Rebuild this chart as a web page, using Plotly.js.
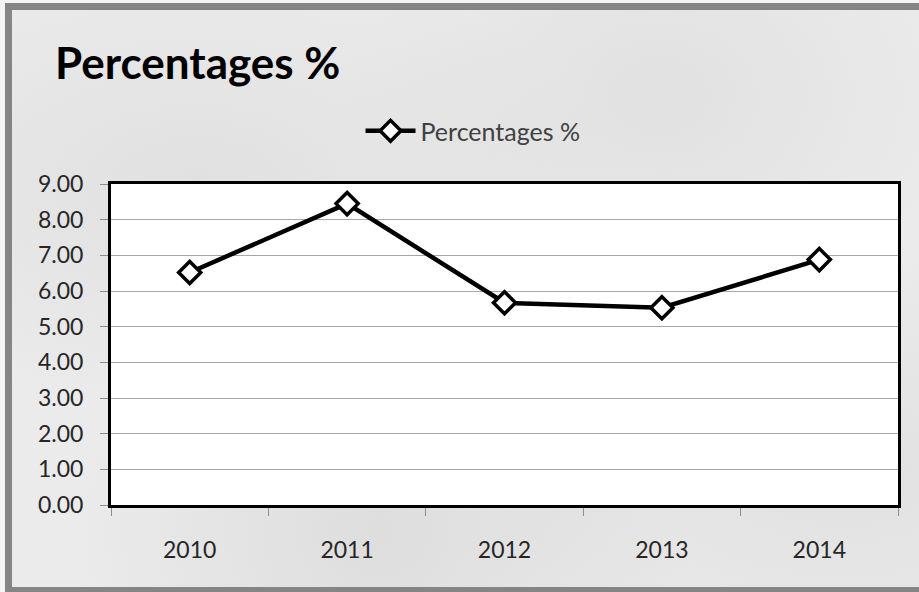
<!DOCTYPE html>
<html>
<head>
<meta charset="utf-8">
<script src="https://cdn.plot.ly/plotly-3.0.1.min.js"></script>
<style>
  html, body { margin: 0; padding: 0; width: 919px; height: 592px; overflow: hidden; background: #f4f4f4; }
  #frame { position: absolute; left: 5px; top: 3px; width: 930px; height: 589px; box-sizing: border-box;
           border-top: 7px solid #858585; border-left: 7px solid #858585; border-bottom: 5px solid #858585;
           background:
             radial-gradient(ellipse at 20% 30%, rgba(200,200,200,0.30), rgba(0,0,0,0) 40%),
             radial-gradient(ellipse at 70% 15%, rgba(195,195,195,0.25), rgba(0,0,0,0) 35%),
             radial-gradient(ellipse at 40% 90%, rgba(190,190,190,0.30), rgba(0,0,0,0) 40%),
             radial-gradient(ellipse at 90% 80%, rgba(195,195,195,0.25), rgba(0,0,0,0) 35%),
             #ebebeb; }
  #chart { position: absolute; left: 0; top: 0; width: 919px; height: 592px; }
</style>
</head>
<body>
<div id="frame"></div>
<div id="chart"></div>
<script>
const years = ['2010', '2011', '2012', '2013', '2014'];
const percentages = [6.52, 8.45, 5.67, 5.53, 6.88];
const yTicks = [0, 1, 2, 3, 4, 5, 6, 7, 8, 9];
const seriesName = 'Percentages %';
const chartTitle = 'Percentages %';

const trace = {
  type: 'scatter',
  mode: 'lines+markers',
  x: years,
  y: percentages,
  name: seriesName,
  line: { color: '#000000', width: 4.5 },
  marker: { symbol: 'diamond', size: 17, color: '#ffffff', line: { color: '#000000', width: 3.5 } },
  showlegend: true
};

const layout = {
  width: 919,
  height: 592,
  paper_bgcolor: 'rgba(0,0,0,0)',
  plot_bgcolor: '#ffffff',
  margin: { l: 111, r: 21, t: 184, b: 87, pad: 0 },
  font: { family: 'Lato, "Open Sans", sans-serif', color: '#404040', size: 22 },
  title: {
    text: chartTitle,
    font: { family: 'Lato, "Open Sans", sans-serif', size: 44, color: '#000000', weight: 'bold' },
    xref: 'container', yref: 'container',
    x: 55 / 919, xanchor: 'left',
    y: 1 - 64 / 592, yanchor: 'middle'
  },
  showlegend: true,
  legend: {
    orientation: 'h',
    x: 0.46, xanchor: 'center',
    y: 1.165, yanchor: 'middle',
    itemwidth: 50,
    bgcolor: 'rgba(0,0,0,0)',
    font: { size: 25, color: '#404040' }
  },
  xaxis: {
    type: 'category',
    categoryorder: 'array',
    categoryarray: years,
    range: [-0.5, 4.5],
    showline: true, mirror: true, linecolor: '#000000', linewidth: 3,
    ticks: 'outside', tickson: 'boundaries', ticklen: 8, tickcolor: '#8c8c8c', tickwidth: 1,
    showgrid: false,
    tickfont: { size: 23, color: '#262626' },
    ticklabelstandoff: 22,
    fixedrange: true
  },
  yaxis: {
    range: [0, 9],
    tickvals: yTicks,
    tickformat: '.2f',
    showline: true, mirror: true, linecolor: '#000000', linewidth: 3,
    ticks: 'outside', ticklen: 8, tickcolor: '#8c8c8c', tickwidth: 1,
    showgrid: true, gridcolor: '#a6a6a6', gridwidth: 1,
    zeroline: false,
    tickfont: { size: 23, color: '#262626' },
    ticklabelstandoff: 12,
    fixedrange: true
  }
};

Plotly.newPlot('chart', [trace], layout, { displayModeBar: false, staticPlot: true });
</script>
</body>
</html>
